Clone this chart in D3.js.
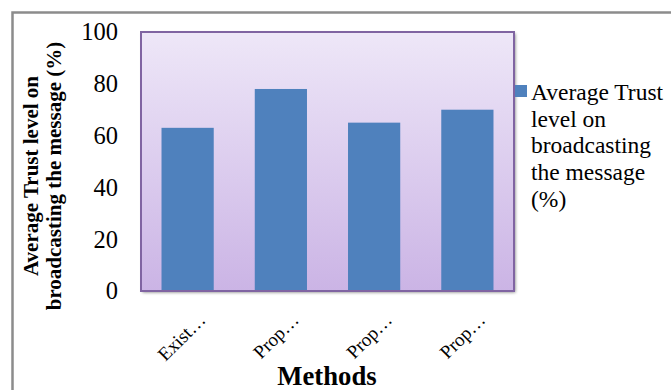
<!DOCTYPE html>
<html>
<head>
<meta charset="utf-8">
<script src="https://cdn.jsdelivr.net/npm/d3@7"></script>
<style>
html,body{margin:0;padding:0;background:#fff;}
svg{display:block;}
</style>
</head>
<body>
<svg id="chart" width="671" height="390"></svg>
<script>
const categories = ["Exist…", "Prop…", "Prop…", "Prop…"];
const values = [63, 78, 65, 70];
const yTicks = [0, 20, 40, 60, 80, 100];
const seriesName = "Average Trust level on broadcasting the message (%)";
const legendLines = ["Average Trust", "level on", "broadcasting", "the message", "(%)"];
const yTitleLines = ["Average Trust level on", "broadcasting the message (%)"];
const xTitle = "Methods";

const FONT = "'Liberation Serif','Times New Roman',serif";
const svg = d3.select("#chart");
const W = 671, H = 390;
const plot = {left: 141, top: 32, right: 514, bottom: 291};

const defs = svg.append("defs");
const grad = defs.append("linearGradient").attr("id", "bg").attr("x1", 0).attr("y1", 0).attr("x2", 0).attr("y2", 1);
grad.append("stop").attr("offset", "0%").attr("stop-color", "#eee7f8");
grad.append("stop").attr("offset", "100%").attr("stop-color", "#cbb4e5");
const filt = defs.append("filter").attr("id", "sh").attr("x", "-10%").attr("y", "-10%").attr("width", "120%").attr("height", "120%");
filt.append("feDropShadow").attr("dx", 1.5).attr("dy", 1.5).attr("stdDeviation", 1.5).attr("flood-color", "#000").attr("flood-opacity", 0.45);

// outer frame
svg.append("path")
  .attr("d", `M12.5,${H} L12.5,12.5 L${W},12.5`)
  .attr("fill", "none").attr("stroke", "#8c8c8c").attr("stroke-width", 2.5);

const x = d3.scaleBand().domain(d3.range(categories.length)).range([plot.left, plot.right]).paddingInner(0.44).paddingOuter(0.22);
const y = d3.scaleLinear().domain([0, 100]).range([plot.bottom, plot.top]);

// plot background
svg.append("rect")
  .attr("x", plot.left).attr("y", plot.top)
  .attr("width", plot.right - plot.left).attr("height", plot.bottom - plot.top)
  .attr("fill", "url(#bg)").attr("filter", "url(#sh)");

// bars
svg.append("g").selectAll("rect").data(values).join("rect")
  .attr("x", (d, i) => x(i)).attr("width", x.bandwidth())
  .attr("y", d => y(d)).attr("height", d => y(0) - y(d))
  .attr("fill", "#4f81bd");

// plot border
svg.append("rect")
  .attr("x", plot.left).attr("y", plot.top)
  .attr("width", plot.right - plot.left).attr("height", plot.bottom - plot.top)
  .attr("fill", "none").attr("stroke", "#8064a2").attr("stroke-width", 2);

// y axis
const yAxis = svg.append("g").attr("transform", `translate(${plot.left},0)`)
  .call(d3.axisLeft(y).tickValues(yTicks).tickSize(0).tickPadding(23));
yAxis.select(".domain").remove();
yAxis.selectAll("text").attr("font-family", FONT).attr("font-size", 24.5).attr("fill", "#000");

// x axis labels
const xAxis = svg.append("g").attr("transform", `translate(0,${plot.bottom})`)
  .call(d3.axisBottom(x).tickFormat(i => categories[i]).tickSize(0));
xAxis.select(".domain").remove();
xAxis.selectAll("text")
  .attr("font-family", FONT).attr("font-size", 19).attr("fill", "#000")
  .attr("text-anchor", "end").attr("dy", 0)
  .attr("transform", `translate(19,30) rotate(-45)`)
  .attr("y", 0).attr("x", 0);

// x title
svg.append("text").attr("x", 327).attr("y", 385).attr("text-anchor", "middle")
  .attr("font-family", FONT).attr("font-weight", "bold").attr("font-size", 26.7)
  .text(xTitle);

// y title
const yt = svg.append("text").attr("transform", "translate(0,176) rotate(-90)")
  .attr("text-anchor", "middle").attr("font-family", FONT)
  .attr("font-weight", "bold").attr("font-size", 21);
yTitleLines.forEach((t, i) => yt.append("tspan").attr("x", 0).attr("y", 38 + i * 23).text(t));

// legend
svg.append("rect").attr("x", 515).attr("y", 85).attr("width", 12).attr("height", 12).attr("fill", "#4f81bd");
const lg = svg.append("text").attr("font-family", FONT).attr("font-size", 23.5).attr("fill", "#000");
legendLines.forEach((t, i) => lg.append("tspan").attr("x", 531).attr("y", 100 + i * 26.7).text(t));
</script>
</body>
</html>
